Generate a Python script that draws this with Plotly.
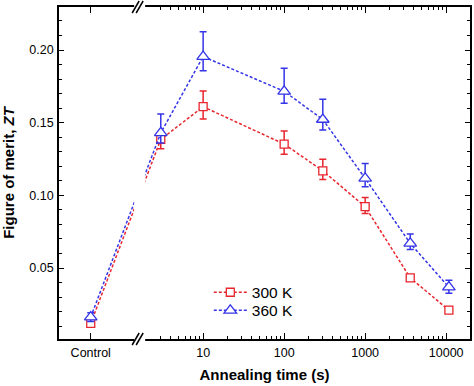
import plotly.graph_objects as go

# ---- data ----
control_label = "Control"
control_pos = 0.41          # where the "Control" category sits on the (log) time axis
times = [3, 10, 100, 300, 1000, 3600, 10800]   # annealing time (s)

zt_300_control = 0.0119
zt_300 = [0.1385, 0.161, 0.1353, 0.1169, 0.0922, 0.0433, 0.0210]
err_300_plus = [0.002, 0.005, 0.0108, 0.009, 0.008, 0.0064, 0.002, 0.002]
err_300_minus = [0.002, 0.0065, 0.0085, 0.007, 0.006, 0.0046, 0.002, 0.002]

zt_360_control = 0.0163
zt_360 = [0.143, 0.1955, 0.1716, 0.1522, 0.1117, 0.0670, 0.0369]
err_360_plus = [0.003, 0.013, 0.017, 0.0158, 0.014, 0.0103, 0.0064, 0.0048]
err_360_minus = [0.003, 0.007, 0.0097, 0.0083, 0.0072, 0.0058, 0.0042, 0.0043]

series_names = ["300 K", "360 K"]
x_ticks = [control_pos, 10, 100, 1000, 10000]
x_ticktext = [control_label, "10", "100", "1000", "10000"]
x_minor = [3, 4, 5, 6, 7, 8, 9,
           20, 30, 40, 50, 60, 70, 80, 90,
           200, 300, 400, 500, 600, 700, 800, 900,
           2000, 3000, 4000, 5000, 6000, 7000, 8000, 9000]

RED = "#e8262e"
BLUE = "#3535e8"

xs = [control_pos] + times

fig = go.Figure()
fig.add_trace(go.Scatter(
    x=xs, y=[zt_300_control] + zt_300, name=series_names[0],
    mode="lines+markers", legend="legend",
    line=dict(color=RED, width=1.5, dash="3px,2px"),
    marker=dict(symbol="square", size=8, color="white",
                line=dict(color=RED, width=1.3)),
    error_y=dict(type="data", symmetric=False, array=err_300_plus,
                 arrayminus=err_300_minus, color=RED, thickness=1.5, width=3.5),
))
fig.add_trace(go.Scatter(
    x=xs, y=[zt_360_control] + zt_360, name=series_names[1],
    mode="lines+markers", legend="legend2",
    line=dict(color=BLUE, width=1.5, dash="3px,2px"),
    marker=dict(symbol="triangle-up", size=11, color="white",
                line=dict(color=BLUE, width=1.3)),
    error_y=dict(type="data", symmetric=False, array=err_360_plus,
                 arrayminus=err_360_minus, color=BLUE, thickness=1.5, width=3.5),
))

FONT = "Liberation Sans, Arial, sans-serif"

# axis break decoration (paper coordinates)
bx = 0.195
shapes = [
    dict(type="rect", xref="paper", yref="paper", layer="above",
         xsizemode="pixel", xanchor=bx, x0=-5, x1=6,
         y0=-0.02, y1=1.02, line=dict(width=0), fillcolor="white"),
]
for ya in (0, 1):
    for dx in (-4, 0):
        shapes.append(dict(type="line", xref="paper", yref="paper", layer="above",
                           xsizemode="pixel", xanchor=bx,
                           ysizemode="pixel", yanchor=ya,
                           x0=dx - 3, x1=dx + 4, y0=-6, y1=6,
                           line=dict(color="black", width=1.5)))

leg_common = dict(x=0.3645, xanchor="left", yanchor="middle",
                  bgcolor="rgba(0,0,0,0)", font=dict(size=15.5), itemwidth=33)

fig.update_layout(
    width=474, height=386,
    margin=dict(l=59, r=2, t=7, b=47),
    paper_bgcolor="white", plot_bgcolor="white",
    font=dict(family=FONT, size=12.5, color="black"),
    showlegend=True,
    legend=dict(y=0.1395, **leg_common),
    legend2=dict(y=0.085, **leg_common),
    shapes=shapes,
    xaxis=dict(
        type="log", range=[-0.779, 4.294],
        tickmode="array", tickvals=x_ticks, ticktext=x_ticktext,
        ticks="inside", ticklen=6, tickwidth=1.3, tickcolor="black",
        showline=True, linecolor="black", linewidth=1.8, mirror="allticks",
        showgrid=False, zeroline=False,
        minor=dict(tickmode="array", tickvals=x_minor, ticks="inside",
                   ticklen=3.5, tickwidth=1.1, tickcolor="black", showgrid=False),
        title=dict(text="<b>Annealing time (s)</b>", font=dict(size=15), standoff=11),
        ticklabelstandoff=1,
    ),
    yaxis=dict(
        range=[0.0012, 0.2296],
        tick0=0, dtick=0.05, tickformat=".2f",
        ticks="inside", ticklen=5, tickwidth=1.3, tickcolor="black",
        showline=True, linecolor="black", linewidth=1.8, mirror="allticks",
        showgrid=False, zeroline=False,
        minor=dict(tick0=0, dtick=0.01, ticks="inside", ticklen=3,
                   tickwidth=1.1, tickcolor="black", showgrid=False),
        title=dict(text="<b>Figure of merit, <i>ZT</i></b>", font=dict(size=15), standoff=13),
        ticklabelstandoff=1,
    ),
)

fig.write_html("out.html", config={"displayModeBar": False},
               post_script="document.body.style.margin='0px';")
